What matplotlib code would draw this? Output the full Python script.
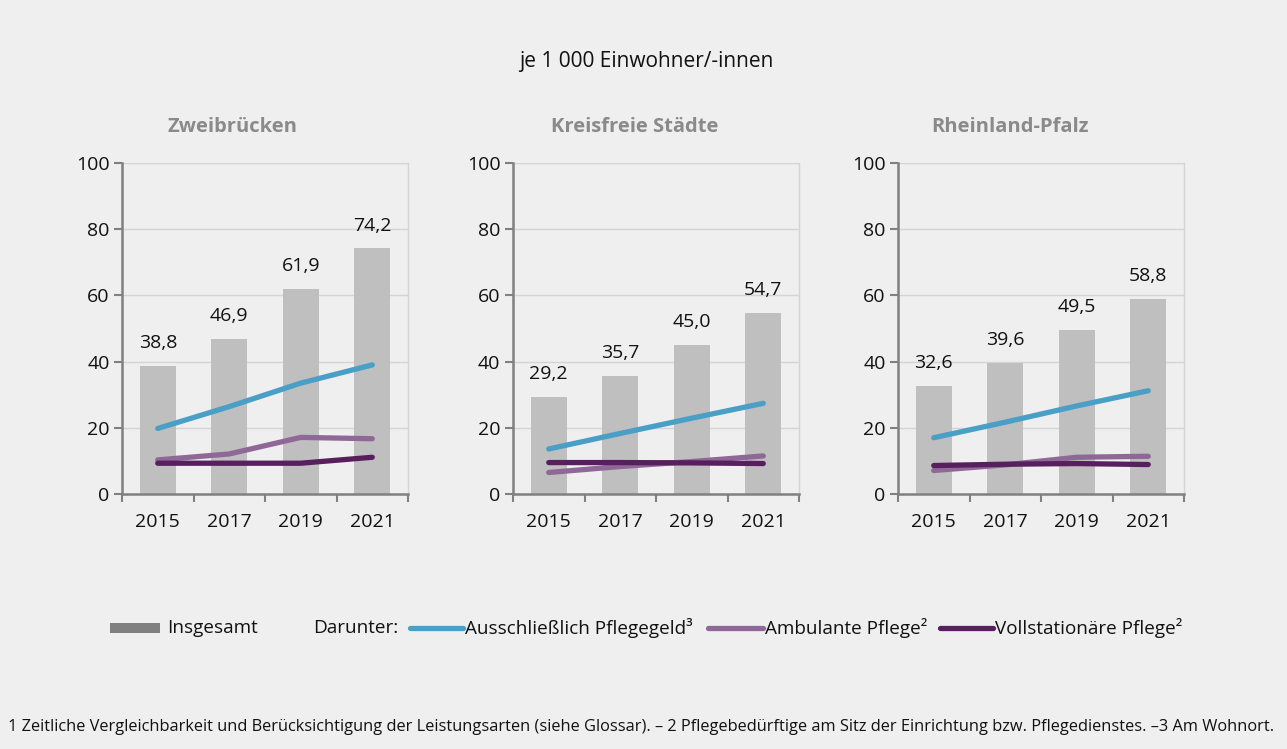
import matplotlib
matplotlib.use("Agg")
import matplotlib.pyplot as plt
from matplotlib.lines import Line2D
from matplotlib.patches import Rectangle
import numpy as np

plt.rcParams['font.family'] = ['Open Sans', 'DejaVu Sans']

years = ["2015", "2017", "2019", "2021"]
regions = ["Zweibrücken", "Kreisfreie Städte", "Rheinland-Pfalz"]
insgesamt = [
    [38.8, 46.9, 61.9, 74.2],
    [29.2, 35.7, 45.0, 54.7],
    [32.6, 39.6, 49.5, 58.8],
]
pflegegeld = [
    [19.8, 26.4, 33.5, 39.0],
    [13.6, 18.3, 22.9, 27.4],
    [17.0, 21.7, 26.6, 31.2],
]
ambulant = [
    [10.3, 12.1, 17.1, 16.7],
    [6.5, 8.3, 9.8, 11.5],
    [7.1, 8.8, 11.1, 11.4],
]
vollstationaer = [
    [9.3, 9.3, 9.3, 11.1],
    [9.5, 9.5, 9.4, 9.2],
    [8.6, 9.0, 9.2, 8.9],
]
labels = [
    ["38,8", "46,9", "61,9", "74,2"],
    ["29,2", "35,7", "45,0", "54,7"],
    ["32,6", "39,6", "49,5", "58,8"],
]

BG = "#eeefee"
BAR = "#bfbfbf"
BLUE = "#4a9fc6"
LPURP = "#8f6898"
DPURP = "#571f5e"
SPINE = "#808080"
GRID = "#d4d4d4"

W, H = 1287, 749
fig = plt.figure(figsize=(W / 100, H / 100), dpi=100, facecolor=BG)

ax_lefts = [122, 513, 898]
title_x = [0.388, 0.427, 0.392]
ax_width = 286
ax_top, ax_bottom = 163, 494

x = np.arange(len(years))
for i, name in enumerate(regions):
    l = ax_lefts[i]
    ax = fig.add_axes([l / W, 1 - ax_bottom / H, ax_width / W, (ax_bottom - ax_top) / H])
    ax.set_facecolor(BG)
    ax.bar(x, insgesamt[i], width=0.5, color=BAR, zorder=2)
    for xi, v, lab in zip(x, insgesamt[i], labels[i]):
        ax.annotate(lab, (xi, v), xytext=(0, 10), textcoords="offset points",
                    ha="center", va="bottom", fontsize=14, color="#111111")
    ax.plot(x, pflegegeld[i], color=BLUE, lw=3.8, solid_capstyle="round", zorder=3)
    ax.plot(x, ambulant[i], color=LPURP, lw=3.8, solid_capstyle="round", zorder=3)
    ax.plot(x, vollstationaer[i], color=DPURP, lw=3.8, solid_capstyle="round", zorder=4)
    ax.set_xlim(-0.5, 3.5)
    ax.set_ylim(0, 100)
    ax.set_yticks([0, 20, 40, 60, 80, 100])
    ax.set_xticks(x)
    ax.set_xticklabels(years)
    ax.set_xticks([-0.5, 0.5, 1.5, 2.5, 3.5], minor=True)
    ax.tick_params(axis="x", which="major", length=0, labelsize=14, pad=14, colors="#111111")
    ax.tick_params(axis="x", which="minor", length=6, width=1.5, color=SPINE, direction="out")
    ax.tick_params(axis="y", length=6, width=1.5, color=SPINE, labelsize=14, labelcolor="#111111", pad=3)
    ax.grid(axis="y", color=GRID, lw=1, zorder=0)
    for s in ["left", "bottom"]:
        ax.spines[s].set_color(SPINE)
        ax.spines[s].set_linewidth(1.8)
    ax.spines["top"].set_visible(False)
    ax.spines["right"].set_color(GRID)
    ax.spines["right"].set_linewidth(1)
    ax.set_title(name, fontsize=14.5, fontweight="bold", color="#8a8a8a", pad=22, x=title_x[i])

fig.text(646 / W, 1 - 62 / H, "je 1 000 Einwohner/-innen", ha="center", va="center",
         fontsize=15, color="#111111")

# Legend
ly = 1 - 628 / H
fig.add_artist(Rectangle((110 / W, ly - 5 / H), 50 / W, 10 / H, transform=fig.transFigure,
                         facecolor="#808080", edgecolor="none"))
fig.text(167 / W, ly, "Insgesamt", ha="left", va="center", fontsize=13.6, color="#111111")
fig.text(313 / W, ly, "Darunter:", ha="left", va="center", fontsize=13.6, color="#111111")
leg_items = [(410, 463, BLUE, "Ausschließlich Pflegegeld³"),
             (708, 763, LPURP, "Ambulante Pflege²"),
             (940, 993, DPURP, "Vollstationäre Pflege²")]
for x0, x1, c, t in leg_items:
    fig.add_artist(Line2D([x0 / W, x1 / W], [ly, ly], transform=fig.transFigure,
                          color=c, lw=3.8, solid_capstyle="round"))
    fig.text((x1 + 2) / W, ly, t, ha="left", va="center", fontsize=13.6, color="#111111")

fig.text(8 / W, 1 - 727 / H,
         "1 Zeitliche Vergleichbarkeit und Berücksichtigung der Leistungsarten (siehe Glossar). – 2 Pflegebedürftige am Sitz der Einrichtung bzw. Pflegedienstes. –3 Am Wohnort.",
         ha="left", va="center", fontsize=11.8, color="#111111")

fig.savefig("out.png", dpi=100, facecolor=BG)
